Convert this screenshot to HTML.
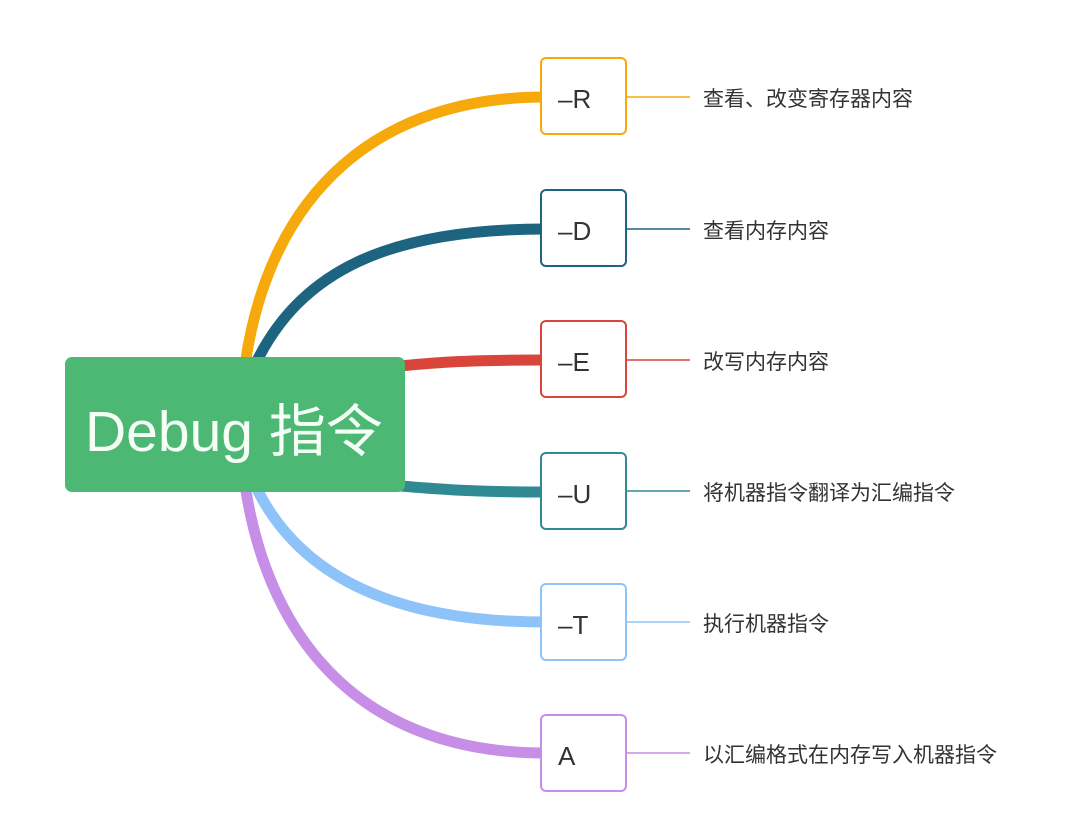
<!DOCTYPE html>
<html><head><meta charset="utf-8"><style>
html,body{margin:0;padding:0;background:#fff;}
body{width:1080px;height:826px;position:relative;overflow:hidden;font-family:"Liberation Sans","Noto Sans CJK SC",sans-serif;}
.b{position:absolute;left:540px;width:83px;height:74px;border:2px solid;border-radius:6px;background:#fff;box-sizing:content-box;font-size:26px;color:#333;line-height:80px;}
.b span{position:absolute;left:16px;}
.t{position:absolute;left:703px;font-size:21px;color:#333;font-family:"Noto Sans CJK SC",sans-serif;line-height:24px;}
.c{position:absolute;left:65px;top:357px;width:340px;height:135px;background:#4cb874;border-radius:7px;color:#f4fff6;font-size:57px;line-height:140px;text-align:left;}
</style></head><body>
<svg width="1080" height="826" style="position:absolute;left:0;top:0" fill="none">
<path d="M245 365 C270 190 380 97 545 97" stroke="#f5a90a" stroke-width="11"/>
<path d="M255 365 C300 270 390 229 545 229" stroke="#1d6480" stroke-width="11"/>
<path d="M400 366 C440 362 470 360 545 360" stroke="#d9453b" stroke-width="11"/>
<path d="M400 486 C440 489 470 492 545 492" stroke="#2f8a94" stroke-width="11"/>
<path d="M255 485 C300 580 400 622 545 622" stroke="#8ec3fa" stroke-width="11"/>
<path d="M245 485 C270 650 370 753 545 753" stroke="#c68ee6" stroke-width="11"/>
<g stroke-width="1.5">
<line x1="627" y1="97" x2="690" y2="97" stroke="#f5a90a"/>
<line x1="627" y1="229" x2="690" y2="229" stroke="#1d6480"/>
<line x1="627" y1="360" x2="690" y2="360" stroke="#d9453b"/>
<line x1="627" y1="491" x2="690" y2="491" stroke="#2f8a94"/>
<line x1="627" y1="622" x2="690" y2="622" stroke="#8ec3fa"/>
<line x1="627" y1="753" x2="690" y2="753" stroke="#c68ee6"/>
</g></svg>
<div class="c"><span style="position:absolute;left:20px;">Debug <span style="font-family:'Noto Sans CJK SC',sans-serif;">指令</span></span></div>
<div class="b" style="top:57px;border-color:#f5a90a"><span>–R</span></div>
<div class="b" style="top:189px;border-color:#1d6480"><span>–D</span></div>
<div class="b" style="top:320px;border-color:#d9453b"><span>–E</span></div>
<div class="b" style="top:452px;border-color:#2f8a94"><span>–U</span></div>
<div class="b" style="top:583px;border-color:#8ec3fa"><span>–T</span></div>
<div class="b" style="top:714px;border-color:#c68ee6"><span>A</span></div>
<div class="t" style="top:86px">查看、改变寄存器内容</div>
<div class="t" style="top:218px">查看内存内容</div>
<div class="t" style="top:349px">改写内存内容</div>
<div class="t" style="top:480px">将机器指令翻译为汇编指令</div>
<div class="t" style="top:611px">执行机器指令</div>
<div class="t" style="top:742px">以汇编格式在内存写入机器指令</div>
</body></html>
